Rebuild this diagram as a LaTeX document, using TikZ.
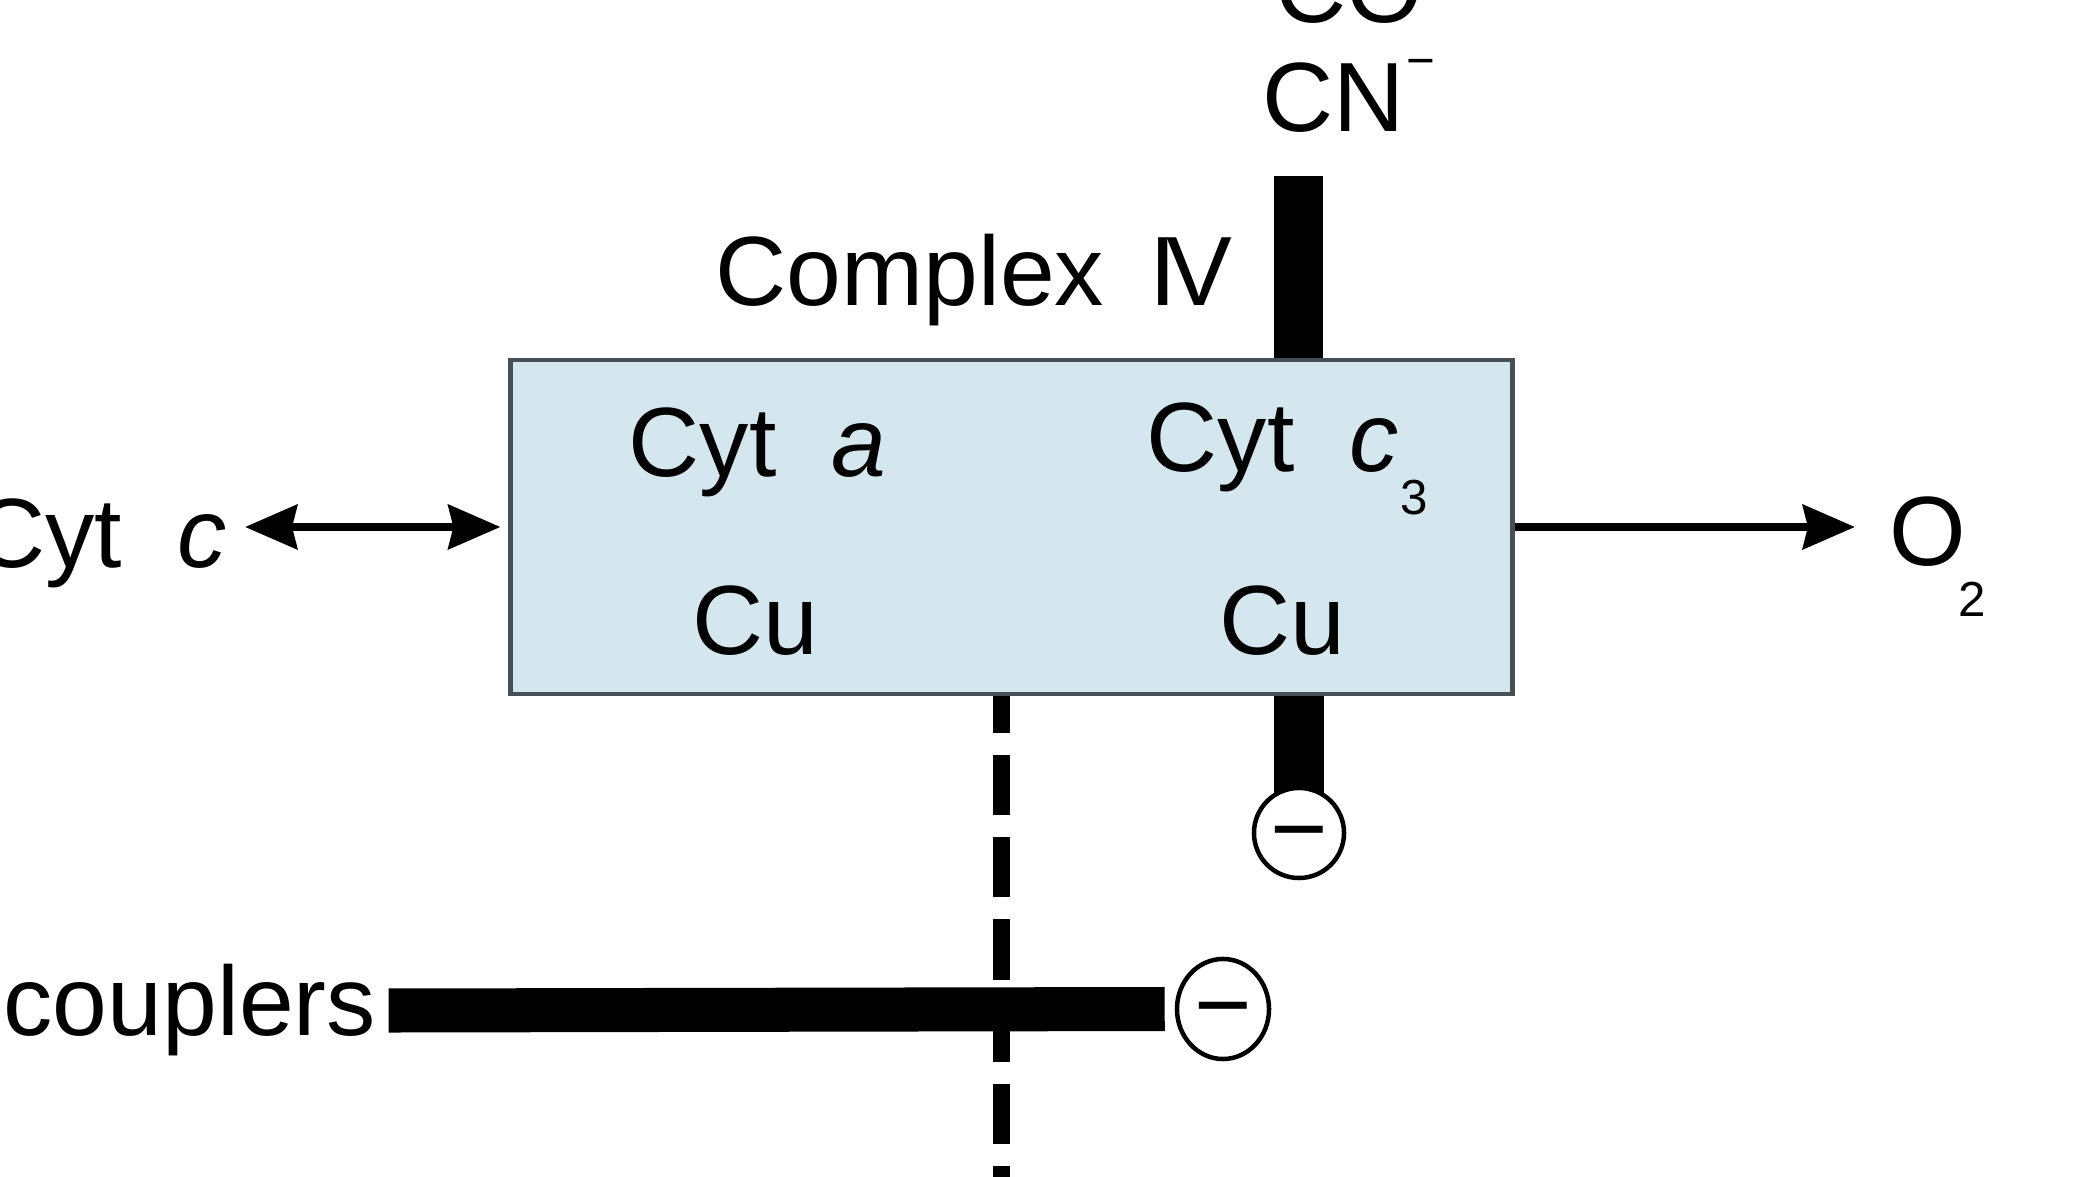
\documentclass[tikz,border=0pt]{standalone}
\usepackage{fontspec}
\setmainfont{Liberation Sans}
\usetikzlibrary{arrows.meta,shapes.geometric,backgrounds}
\definecolor{boxfill}{RGB}{213,231,238}
\definecolor{boxline}{RGB}{70,80,84}
\begin{document}
\begin{tikzpicture}[x=0.01cm,y=-0.01cm,
  lbl/.style={inner sep=0pt, font=\fontsize{28}{32}\selectfont},
  sublbl/.style={inner sep=0pt, font=\fontsize{14}{16}\selectfont},
  mytip/.tip={Stealth[length=0.52cm,width=0.44cm,inset=0.05cm]},
  onearrow/.style={line width=0.085cm, -mytip},
  dblarrow/.style={line width=0.085cm, mytip-mytip},
  blockbar/.style={line width=0.49cm},
  couplerbar/.style={line width=0.44cm},
  dashline/.style={line width=0.17cm, dash pattern=on 0.6cm off 0.22cm, dash phase=0.23cm},
  inhib/.style={draw, line width=0.045cm, fill=white, inner sep=0pt,
    font=\fontsize{28}{32}\selectfont, text height=16.8pt, text depth=0pt}]
\useasboundingbox (0,0) rectangle (2096,1177);
\clip (0,0) rectangle (2096,1177);

% main box
\node[draw=boxline, fill=boxfill, line width=0.045cm, minimum width=10.01cm,
      minimum height=3.34cm, inner sep=0pt] (box) at (1011.5,527) {};

% labels inside the box
\node[lbl, anchor=base west] (cyta) at (628,477) {Cyt\ \ \textit{a}};
\node[lbl, anchor=base west] (cytcthree) at (1146,472) {Cyt\ \ \textit{c}};
\node[sublbl, anchor=base west] (cytcsub) at (1400,515) {3};
\node[lbl, anchor=base west] (cuone) at (692,655) {Cu};
\node[lbl, anchor=base west] (cutwo) at (1219,655) {Cu};

% labels outside
\node[lbl, anchor=base west] (cplx) at (715,306) {Complex\hspace{13pt}I\kern-3pt V};
\node[lbl, anchor=base west] (co) at (1275,23) {CO};
\node[lbl, anchor=base west] (cn) at (1262,132) {CN};
\node[sublbl, anchor=base west] (cnminus) at (1406,78) {−};
\node[lbl, anchor=base east] (cytc) at (227,568) {Cyt\ \ \textit{c}};
\node[lbl, anchor=base west] (oxy) at (1889,566) {O};
\node[sublbl, anchor=base west] (oxysub) at (1958,617) {2};
\node[lbl, anchor=base west] (coup) at (3,1036) {couplers};

% inhibition symbols
\node[inhib, circle, minimum size=0.9cm] (inhone) at (1299,833) {−};
\node[inhib, ellipse, minimum width=0.92cm, minimum height=1.0cm] (inhtwo) at (1223,1009) {−};

\coordinate (topbar) at (1298.5,176);
\coordinate (dashend) at (1001,1200);

\begin{scope}[on background layer]
  \draw[dashline] (box.south -| dashend) -- (dashend);
  \draw[blockbar] (topbar) -- (topbar |- box.north);
  \draw[blockbar] (inhone |- box.south) -- (inhone.center);
  \draw[couplerbar, shorten <=0.12cm, shorten >=0.1cm] (coup.east) -- (inhtwo.west);
\end{scope}

% arrows
\draw[dblarrow, shorten <=0.18cm, shorten >=0.08cm] (cytc.east |- box.west) -- (box.west);
\draw[onearrow, shorten >=0.34cm] (box.east) -- (oxy.west |- box.east);
\end{tikzpicture}
\end{document}
